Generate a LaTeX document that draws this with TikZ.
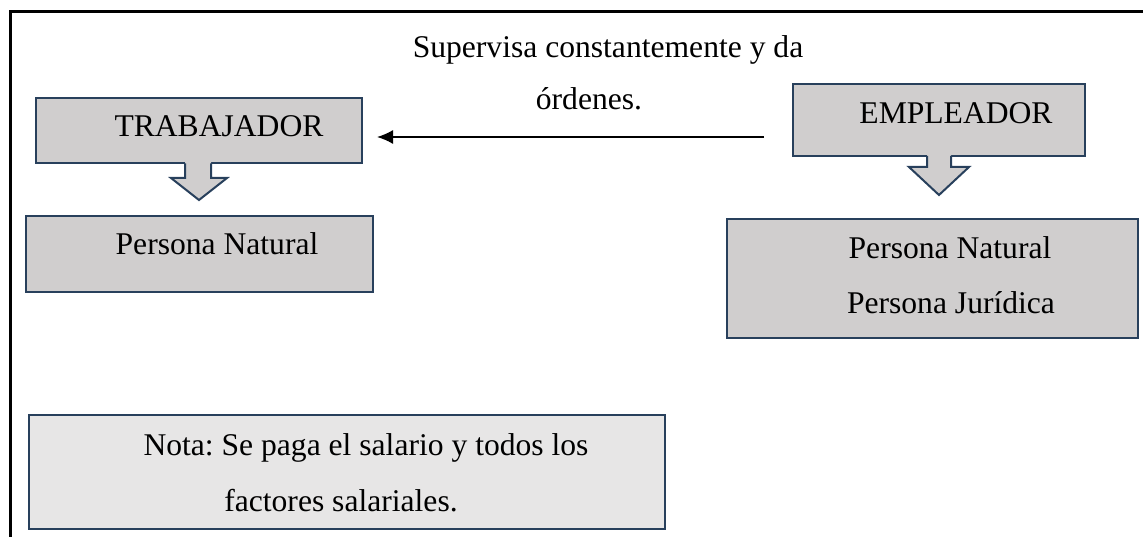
\documentclass[tikz,border=0pt]{standalone}
\usepackage{fontspec}
\setmainfont{Liberation Serif}
\usetikzlibrary{arrows.meta}
\frenchspacing

\definecolor{cajagris}{RGB}{208,206,206}
\definecolor{notagris}{RGB}{231,230,230}
\definecolor{bordeazul}{RGB}{40,64,92}

\tikzset{
  caja/.style={draw=bordeazul, line width=2pt, fill=cajagris, inner sep=0pt},
  texto/.style={anchor=base, inner sep=0pt, font=\fontsize{31.6}{38}\selectfont},
  flecha/.style={line width=1.6pt, -{Latex[length=16pt,width=14pt]}},
}

\begin{document}
\begin{tikzpicture}[x=1pt, y=-1pt]
                \useasboundingbox (0,0) rectangle (1143,537);
                \draw[line width=3pt] (10.5,537) -- (10.5,11.5) -- (1143,11.5);

                \node[caja, minimum width=326pt, minimum height=65pt] (trabajador) at (199,130.5) {};
                \fill[cajagris] (185,161) -- (185,178) -- (171,178) -- (199,200) -- (227,178) -- (211,178) -- (211,161) -- cycle;
                \draw[bordeazul, line width=2pt] (185,163.5) -- (185,178) -- (171,178) -- (199,200) -- (227,178) -- (211,178) -- (211,163.5);
                \node[caja, minimum width=347pt, minimum height=76pt] (natural) at (199.5,254) {};

                \node[caja, minimum width=292pt, minimum height=72pt] (empleador) at (939,120) {};
                \fill[cajagris] (927,153) -- (927,167) -- (909,167) -- (939,195) -- (969,167) -- (951,167) -- (951,153) -- cycle;
                \draw[bordeazul, line width=2pt] (927,156) -- (927,167) -- (909,167) -- (939,195) -- (969,167) -- (951,167) -- (951,156);
                \node[caja, minimum width=411pt, minimum height=119pt] (tipos) at (932.5,278.5) {};

                \node[caja, fill=notagris, minimum width=636pt, minimum height=114pt] (nota) at (347,472) {};

                \node[texto] (t1) at (219,137) {TRABAJADOR};
                \node[texto] (t2) at (217,255) {Persona Natural};
                \node[texto] (e1) at (956,124) {EMPLEADOR};
                \node[texto] (e2) at (950,259) {Persona Natural};
                \node[texto] (e3) at (951,313) {Persona Jurídica};
                \node[texto] (s1) at (608,58) {Supervisa constantemente y da};
                \node[texto] (s2) at (589,110) {órdenes.};
                \node[texto] (n1) at (366,455) {Nota: Se paga el salario y todos los};
                \node[texto] (n2) at (341,511) {factores salariales.};

                \coordinate (nivel) at (0,137);
                \draw[flecha, shorten <=28pt, shorten >=14pt] (empleador.west |- nivel) -- (trabajador.east |- nivel);
            \end{tikzpicture}
\end{document}
